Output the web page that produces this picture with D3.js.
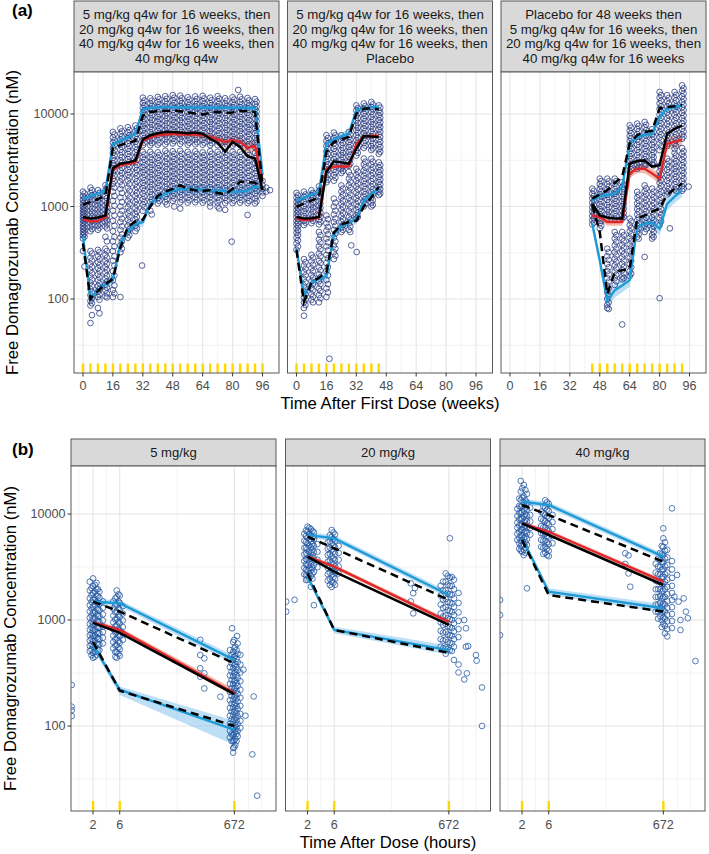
<!DOCTYPE html>
<html><head><meta charset="utf-8">
<script src="https://cdn.jsdelivr.net/npm/d3@7"></script>
<style>body{margin:0;background:#fff}svg{display:block;font-family:"Liberation Sans",Arial,sans-serif}</style>
</head><body><svg id="c" width="709" height="854"></svg>
<script>
// ---------------- DATA ----------------
const stripA1=["5 mg/kg q4w for 16 weeks, then","20 mg/kg q4w for 16 weeks, then","40 mg/kg q4w for 16 weeks, then","40 mg/kg q4w"];
const stripA2=["5 mg/kg q4w for 16 weeks, then","20 mg/kg q4w for 16 weeks, then","40 mg/kg q4w for 16 weeks, then","Placebo"];
const stripA3=["Placebo for 48 weeks then","5 mg/kg q4w for 16 weeks, then","20 mg/kg q4w for 16 weeks, then","40 mg/kg q4w for 16 weeks"];
const stripB=["5 mg/kg","20 mg/kg","40 mg/kg"];
const xTicksA=[0,16,32,48,64,80,96];
const xMinorA=[8,24,40,56,72,88];
const xTicksB=[2,6,672];
const xMinorB=[1.12,3.46,63.5,1200,2050];
const yTicks=[100,1000,10000];
const yMinor=[31.62,316.2,3162];
const dosesA1=[0,4,8,12,16,20,24,28,32,36,40,44,48,52,56,60,64,68,72,76,80,84,88,92,96];
const dosesA2=[0,4,8,12,16,20,24,28,32,36,40,44];
const dosesA3=[44,48,52,56,60,64,68,72,76,80,84,88,92];
const dosesB=[2,6,672];

// simulated percentiles: [time, lower CI, median, upper CI]
const simP95A1=[[0,1090,1200,1320],[4,1180,1300,1430],[8,1250,1380,1520],[12,1340,1480,1630],[16,4250,4700,5200],[20,4700,5200,5750],[24,5050,5600,6200],[28,5500,6100,6750],[32,10200,11200,12300],[36,10600,11600,12800],[40,10800,11800,13000],[44,10800,11800,13000],[48,10800,11800,13000],[52,10800,11800,13000],[56,10700,11750,12950],[60,10700,11750,12950],[64,10700,11750,12950],[68,10700,11700,12900],[72,10700,11700,12900],[76,10700,11700,12900],[80,10700,11700,12900],[84,10700,11700,12900],[88,10600,11600,12800],[92,10600,11600,12800],[96,1900,2200,2550]];
const simMedA1=[[0,690,730,775],[4,650,690,735],[8,660,700,745],[12,715,760,810],[16,2350,2500,2660],[20,2640,2800,2970],[24,2730,2900,3080],[28,2820,3000,3190],[32,4900,5200,5520],[36,5300,5600,5920],[40,5560,5900,6260],[44,5650,6000,6370],[48,5740,6100,6480],[52,5620,6000,6400],[56,5600,6000,6430],[60,5580,6000,6450],[64,5450,5900,6380],[68,5150,5650,6200],[72,4800,5300,5850],[76,4500,5000,5550],[80,4650,5200,5800],[84,4400,5000,5650],[88,3750,4300,4950],[92,3900,4500,5200],[96,1600,1900,2250]];
const simP05A1=[[0,430,480,535],[4,88,100,114],[8,110,125,142],[12,128,145,165],[16,140,160,183],[20,355,400,450],[24,480,540,605],[28,570,640,715],[32,605,680,760],[36,960,1080,1210],[40,1110,1250,1400],[44,1220,1370,1540],[48,1320,1490,1680],[52,1350,1530,1730],[56,1380,1560,1760],[60,1360,1540,1740],[64,1340,1520,1720],[68,1320,1500,1700],[72,1310,1490,1690],[76,1290,1470,1670],[80,1250,1430,1640],[84,1260,1450,1670],[88,1280,1480,1710],[92,1420,1650,1920],[96,1350,1600,1900]];
const obsP95A1=[[0,1040],[4,1120],[8,1200],[12,1300],[16,4300],[20,4600],[24,4900],[28,5100],[32,9600],[36,10500],[40,10700],[44,10800],[48,10900],[52,10700],[56,10400],[60,10100],[64,9900],[68,10300],[72,10600],[76,10200],[80,10400],[84,10800],[88,10700],[92,10500],[96,1650]];
const obsMedA1=[[0,770],[4,740],[8,760],[12,800],[16,2600],[20,2900],[24,3000],[28,3150],[32,5300],[36,5900],[40,6200],[44,6400],[48,6400],[52,6300],[56,6200],[60,6300],[64,6100],[68,5400],[72,4900],[76,3900],[80,5000],[84,4400],[88,3500],[92,3300],[96,1500]];
const obsP05A1=[[0,400],[4,100],[8,122],[12,145],[16,165],[20,360],[24,600],[28,690],[32,720],[36,1000],[40,1300],[44,1450],[48,1550],[52,1700],[56,1550],[60,1500],[64,1480],[68,1500],[72,1400],[76,1350],[80,1550],[84,1850],[88,1850],[92,1800],[96,1550]];

const simP95A2=[[0,1060,1160,1270],[4,1140,1250,1370],[8,1220,1340,1470],[12,1300,1430,1570],[16,4350,4780,5250],[20,4800,5300,5850],[24,5200,5750,6350],[28,5550,6130,6750],[32,10000,11000,12100],[36,10500,11500,12600],[40,10800,11800,12900],[44,10900,11900,13000]];
const simMedA2=[[0,700,740,780],[4,675,715,755],[8,685,725,765],[12,720,760,800],[16,2400,2550,2710],[20,2540,2700,2870],[24,2560,2720,2890],[28,2540,2700,2870],[32,4470,4750,5050],[36,5370,5700,6050],[40,5460,5800,6160],[44,5460,5800,6160]];
const simP05A2=[[0,315,350,390],[4,97,109,122],[8,134,150,168],[12,147,165,185],[16,156,175,196],[20,445,500,560],[24,545,610,685],[28,600,670,750],[32,650,730,820],[36,1030,1150,1290],[40,1210,1350,1510],[44,1400,1560,1750]];
const obsP95A2=[[0,990],[4,1080],[8,1160],[12,1260],[16,3900],[20,4980],[24,5300],[28,5650],[32,10080],[36,11400],[40,11600],[44,11200]];
const obsMedA2=[[0,770],[4,740],[8,745],[12,770],[16,2360],[20,3080],[24,3000],[28,2900],[32,4230],[36,5780],[40,5700],[44,5650]];
const obsP05A2=[[0,340],[4,93],[8,150],[12,170],[16,195],[20,520],[24,640],[28,680],[32,700],[36,1000],[40,1250],[44,1630]];

const simP95A3=[[44,1060,1160,1270],[48,1180,1300,1430],[52,1220,1340,1470],[56,1250,1370,1500],[60,1480,1630,1790],[64,4350,4780,5250],[68,5150,5650,6200],[72,5400,5900,6450],[76,5600,6130,6700],[80,8450,9300,10200],[84,10400,11400,12500],[88,10850,11900,13050],[92,11300,12400,13600]];
const simMedA3=[[44,730,800,875],[48,700,770,845],[52,620,680,745],[56,620,680,745],[60,620,680,745],[64,2030,2270,2540],[68,2290,2560,2860],[72,2290,2560,2860],[76,2030,2270,2540],[80,1750,2000,2290],[84,4100,4780,5500],[88,4300,5000,5800],[92,4550,5270,6100]];
const simP05A3=[[44,570,650,740],[48,230,260,295],[52,80,96,114],[56,104,124,147],[60,118,140,166],[64,135,160,190],[68,510,600,700],[72,555,650,760],[76,570,670,785],[80,490,575,675],[84,910,1070,1250],[88,1090,1280,1500],[92,1270,1490,1750]];
const obsP95A3=[[44,1215],[48,1350],[52,1500],[56,1800],[60,2100],[64,4800],[68,5900],[72,6380],[76,6600],[80,11500],[84,11900],[88,12100],[92,12400]];
const obsMedA3=[[44,1070],[48,800],[52,760],[56,740],[60,740],[64,2900],[68,3100],[72,3150],[76,2700],[80,2800],[84,6100],[88,6900],[92,7500]];
const obsP05A3=[[44,1030],[48,530],[52,113],[56,195],[60,205],[64,212],[68,740],[72,800],[76,880],[80,950],[84,1330],[88,1550],[92,1770]];

const simP95B1=[[2,1400,1490,1590],[6,1350,1440,1540],[672,385,420,460]];
const simMedB1=[[2,900,950,1000],[6,765,805,850],[672,190,205,222]];
const simP05B1=[[2,540,580,625],[6,196,220,236],[672,66,92,112]];
const obsP95B1=[[2,1490],[6,1200],[672,390]];
const obsMedB1=[[2,940],[6,755],[672,200]];
const obsP05B1=[[2,620],[6,215],[672,100]];
const simP95B2=[[2,5950,6340,6750],[6,5550,5900,6300],[672,1600,1720,1850]];
const simMedB2=[[2,3800,3960,4130],[6,3050,3190,3340],[672,910,960,1010]];
const simP05B2=[[2,2420,2560,2710],[6,750,805,865],[672,470,520,575]];
const obsP95B2=[[2,6100],[6,4740],[672,1550]];
const obsMedB2=[[2,3960],[6,2860],[672,900]];
const obsP05B2=[[2,2750],[6,805],[672,490]];
const simP95B3=[[2,12300,13060,13900],[6,11400,12160,13000],[672,3700,3960,4250]];
const simMedB3=[[2,7850,8170,8500],[6,6500,6800,7100],[672,2200,2300,2410]];
const simP05B3=[[2,5550,5900,6250],[6,1720,1850,1990],[672,1180,1290,1410]];
const obsP95B3=[[2,12160],[6,9790],[672,3550]];
const obsMedB3=[[2,8170],[6,6340],[672,2140]];
const obsP05B3=[[2,5700],[6,1720],[672,1200]];

// observations: [time, [concentrations]]
const obsA1=[
[0,[1450,1300,1180,1080,1000,930,870,810,760,710,660,610,570,530,490,450,330]],
[0.8,[1380,1240,1130,1040,960,900,840,780,730,690,640,590,550,510,470,225]],
[4,[1600,1400,1250,1120,1000,900,820,740,670,600,540,330,280,240,205,175,150,128,110,95,85,55]],
[4.8,[1500,1320,1180,1060,950,860,780,700,630,570,310,260,222,190,162,138,118,102,90,67]],
[8,[1500,1300,1150,1030,930,840,760,690,620,560,340,290,250,215,185,160,138,120,105,80]],
[8.8,[1400,1220,1090,980,880,800,720,650,590,320,270,232,200,172,148,128,112,98,70]],
[12,[1700,1480,1300,1150,1030,920,830,750,680,610,470,350,300,258,222,192,166,143,124,107]],
[12.8,[1600,1400,1230,1090,980,880,790,710,640,580,420,330,280,240,207,178,154,133,115,104]],
[16,[6400,5600,4900,4300,3800,3350,2950,2600,2300,2000,1750,1450,1150,900,700,540,420,330,260,200,160,125,105]],
[16.8,[6000,5200,4600,4050,3550,3150,2780,2450,2150,1880,1600,1300,1020,800,620,470,370,290,230,180,140,115]],
[20,[7000,6100,5300,4700,4100,3600,3150,2800,2450,2150,1850,1550,1250,1000,820,680,560,460,380,320,105]],
[20.8,[6500,5700,5000,4400,3850,3400,2980,2620,2300,2000,1700,1400,1120,900,740,610,500,420,350]],
[24,[7200,6300,5500,4800,4200,3700,3250,2850,2500,2200,1900,1600,1350,1150,980,840,720,620,530,460]],
[24.8,[6700,5900,5100,4500,3950,3450,3050,2680,2350,2050,1750,1480,1250,1060,900,780,670,570,490]],
[28,[7500,6500,5700,5000,4400,3850,3400,3000,2650,2300,2000,1750,1500,1300,1120,960,830,720,620,540]],
[28.8,[7000,6100,5350,4700,4100,3600,3200,2800,2480,2150,1870,1620,1400,1200,1040,890,770,670,580]],
[31.6,[230]],
[32,[15000,13200,11700,10400,9300,8300,7400,6600,5900,5200,4600,3900,3400,3000,2650,2350,2050,1800,1580,1380,1200,1050,900]],
[32.8,[14000,12400,11000,9800,8800,7800,7000,6200,5500,4900,3650,3200,2800,2480,2200,1920,1690,1480,1290,1120,980]],
[36,[14800,13000,11500,10200,9100,8100,7200,6400,5700,5100,4600,3900,3400,3000,2650,2350,2080,1840,1630,1440,1270,1120,900]],
[36.8,[13900,12300,10900,9700,8600,7650,6800,6050,5400,4850,3650,3200,2820,2500,2210,1960,1730,1530,1350,1190,820]],
[40,[15300,13500,11900,10500,9300,8300,7400,6600,5900,5200,4650,3850,3350,2950,2600,2300,2030,1800,1590,1400,1230,1080]],
[40.8,[14400,12700,11200,9900,8800,7850,7000,6250,5550,4900,3600,3150,2770,2450,2160,1910,1690,1490,1310,1150]],
[44,[15600,13700,12100,10700,9500,8450,7500,6700,5950,5300,4700,4000,3500,3050,2700,2380,2100,1860,1640,1450,1280,1120]],
[44.8,[14600,12900,11400,10100,8950,7950,7100,6300,5600,5000,3750,3280,2880,2540,2240,1980,1750,1550,1370,1200,1050]],
[48,[16000,14100,12400,11000,9700,8600,7650,6800,6050,5400,4800,3950,3450,3050,2700,2400,2120,1880,1660,1470,1300,1150]],
[48.8,[15000,13200,11700,10300,9150,8150,7250,6450,5750,5100,3700,3250,2870,2540,2250,2000,1770,1560,1380,1220,1000]],
[52,[15800,13900,12300,10900,9650,8550,7600,6750,6000,5350,4750,4000,3480,3050,2680,2360,2080,1840,1620,1430,1260,1110,950]],
[52.8,[14800,13100,11600,10250,9100,8100,7200,6400,5700,5050,3720,3260,2860,2520,2220,1960,1730,1520,1340,1180]],
[56,[15200,13400,11900,10500,9300,8300,7350,6550,5850,5200,4650,3900,3400,3000,2650,2340,2070,1830,1610,1420,1250,1100]],
[56.8,[14300,12600,11200,9900,8800,7800,6950,6200,5500,4900,3650,3200,2820,2490,2200,1950,1720,1520,1340,1170]],
[60,[15500,13700,12100,10700,9500,8400,7500,6650,5900,5250,4700,3950,3450,3030,2670,2360,2080,1840,1620,1430,1260,1110]],
[60.8,[14500,12800,11400,10100,8950,7950,7050,6250,5550,4950,3700,3230,2840,2510,2210,1960,1730,1530,1350,1180]],
[64,[15700,13800,12200,10800,9550,8450,7500,6650,5900,5250,4650,3850,3380,2980,2630,2330,2060,1820,1610,1420,1250,1100]],
[64.8,[14700,13000,11500,10150,9000,7950,7050,6250,5550,4900,3600,3170,2800,2470,2190,1940,1710,1510,1330,1170]],
[68,[15000,13200,11700,10400,9200,8200,7300,6500,5800,5150,4600,3950,3450,3030,2670,2360,2080,1840,1620,1430,1260,1100,1000]],
[68.8,[14100,12500,11100,9800,8700,7750,6900,6150,5450,4850,3700,3230,2840,2510,2210,1960,1730,1530,1350,1180]],
[72,[15600,13700,12100,10700,9500,8400,7450,6600,5850,5200,4600,3900,3420,3000,2640,2330,2060,1820,1610,1420,1250,1100,1000]],
[72.8,[14600,12900,11400,10100,8950,7900,7000,6200,5500,4900,3650,3200,2810,2480,2190,1940,1710,1510,1330,1170,950]],
[76,[14800,13000,11500,10200,9000,8000,7100,6300,5600,5000,4450,3850,3370,2960,2610,2300,2030,1800,1590,1400,1240,1090,920]],
[76.8,[13900,12300,10900,9600,8500,7550,6700,5950,5300,4700,3600,3160,2780,2450,2160,1910,1690,1490,1320,1160]],
[79.5,[417]],
[80,[15200,13400,11800,10400,9200,8150,7250,6450,5750,5100,4550,3900,3400,2990,2630,2320,2050,1810,1600,1410,1240,1090]],
[80.8,[14300,12600,11100,9800,8700,7700,6850,6100,5400,4800,3650,3190,2800,2470,2180,1930,1700,1500,1320,1160]],
[83,[18200]],
[84,[15400,13500,11900,10500,9300,8250,7350,6550,5800,5150,4600,3900,3420,3000,2640,2330,2060,1820,1610,1420,1250,1100]],
[84.8,[14400,12700,11200,9900,8800,7800,6950,6150,5450,4850,3650,3200,2810,2480,2190,1940,1710,1510,1330,1170]],
[88,[14900,13100,11600,10300,9100,8100,7200,6400,5700,5050,4500,3850,3380,2970,2620,2310,2040,1800,1590,1400,1240,1090,810]],
[88.8,[14000,12400,11000,9700,8600,7650,6800,6050,5350,4750,3600,3150,2770,2440,2150,1900,1680,1480,1310,1150]],
[92,[14500,12800,11300,10000,8850,7850,7000,6200,5500,4900,4400,3800,3330,2930,2580,2280,2010,1780,1570,1380,1220,1080]],
[92.8,[13600,12000,10600,9400,8350,7400,6600,5850,5200,4650,3550,3110,2740,2420,2130,1890,1670,1470,1300,1140]],
[96,[1900,1700,1550,1420,1300]],[98,[1600,1450]],[100,[1500]]
];
const obsA2=[
[0,[1400,1250,1120,1010,920,840,770,700,640,580,520,460,400,340]],
[0.8,[1320,1180,1060,960,880,800,730,670,610,550,490,430,370]],
[4,[1450,1280,1130,1000,890,790,700,630,270,230,195,165,140,120,104,92,80,66]],
[4.8,[1350,1200,1060,940,840,750,670,250,212,180,152,130,112,98,86]],
[8,[1500,1320,1170,1040,930,830,740,660,300,255,215,182,155,132,113,98]],
[8.8,[1400,1240,1100,980,880,780,700,280,235,200,170,145,124,106,92]],
[12,[1650,1450,1280,1140,1020,910,810,720,640,530,440,370,310,260,220,185,155,130,110,92]],
[12.8,[1550,1370,1210,1080,960,860,770,680,490,410,345,290,245,205,172,145,122,102]],
[16,[5900,5100,4500,3950,3450,3050,2700,2350,2050,1830,800,660,550,450,370,300,245,200,160,130,105]],
[16.8,[5500,4800,4200,3700,3250,2850,2500,2200,1950,730,600,500,410,335,275,222,180,145,118]],
[17.6,[22.6]],
[20,[6300,5500,4800,4200,3700,3250,2850,2500,2200,1900,1215,1000,820,680,560,460,380,320,270]],
[20.8,[5900,5150,4500,3950,3450,3050,2680,2350,2050,1100,900,740,620,510,420,350,295]],
[24,[5900,5200,4600,4050,3600,3200,2850,2550,2300,1690,1450,1250,1070,920,790,680,590,530]],
[24.8,[5500,4850,4300,3800,3400,3000,2700,2420,1560,1340,1150,990,850,730,630,560]],
[28,[6400,5600,4950,4400,3900,3450,3050,2750,2360,2000,1700,1450,1240,1060,900,770,660,560]],
[28.8,[6000,5250,4650,4100,3650,3250,2900,2180,1850,1580,1340,1150,980,840,720,610,530]],
[29.3,[380]],[32.2,[322]],
[32,[12400,10900,9600,8500,7500,6700,5900,5200,4600,4050,3550,2560,2200,1900,1650,1420,1230,1060,920,800,740]],
[32.8,[11600,10200,9000,8000,7100,6300,5550,4900,4300,3800,2380,2050,1770,1530,1320,1140,990,860,770]],
[36,[13000,11400,10100,8900,7900,7000,6200,5500,4850,4300,3300,2850,2450,2150,1880,1650,1450,1280,1130,1000]],
[36.8,[12200,10700,9500,8400,7450,6600,5850,5150,4550,3050,2650,2300,2000,1760,1550,1360,1200,1060]],
[40,[13500,11900,10500,9300,8200,7300,6500,5750,5100,4500,4070,3290,2850,2480,2150,1880,1640,1430,1250,1100,1000]],
[40.8,[12700,11200,9900,8700,7750,6900,6100,5400,4800,4250,3050,2650,2300,2000,1750,1530,1340,1170,1040]],
[44,[12400,10900,9700,8600,7600,6800,6000,5300,4700,4150,3700,3000,2650,2350,2080,1840,1630,1450,1330]],
[44.8,[11700,10300,9100,8100,7200,6400,5650,5000,4400,3900,2800,2480,2200,1950,1730,1540,1380]]
];
const obsA3=[
[44,[1560,1380,1230,1100,980,880,790,710,640]],
[44.8,[1480,1300,1160,1040,930,840,750,670]],
[48,[2000,1750,1540,1360,1200,1060,940,830,740,660,580]],
[48.8,[1880,1650,1450,1280,1130,1000,890,790,700,620]],
[52,[2000,1750,1530,1340,1180,1040,920,820,740,350,290,240,200,168,140,118,100,86,80]],
[52.8,[1870,1640,1430,1260,1110,980,870,780,320,265,220,184,154,130,109,92,78]],
[56,[2000,1760,1550,1370,1210,1070,950,840,740,530,450,380,320,272,232,198,168,142]],
[56.8,[1880,1650,1450,1290,1140,1010,890,790,490,415,350,296,252,214,182,155]],
[60,[1830,1620,1440,1280,1140,1010,900,800,740,530,450,385,330,282,240,205,175,163,53]],
[60.8,[1720,1530,1360,1210,1070,950,850,770,490,420,358,305,260,222,190,168]],
[64,[7540,6600,5800,5100,4500,3950,3500,3100,2700,2360,740,630,540,460,390,330,280,238,200,177]],
[64.8,[7100,6200,5450,4800,4220,3720,3280,2900,2530,690,585,500,425,360,305,260,220,188]],
[68,[7870,6900,6050,5300,4650,4100,3600,3150,2800,2560,1440,1250,1080,940,820,710,620,540,470]],
[68.8,[7400,6500,5700,5000,4380,3850,3380,2980,2660,1340,1160,1010,880,760,660,580,500,450]],
[72,[8200,7150,6250,5450,4800,4200,3700,3250,2900,2770,1690,1460,1260,1090,940,820,710,620,530,285]],
[72.8,[7650,6700,5850,5100,4500,3950,3480,3080,2830,1570,1360,1170,1010,880,760,660,570]],
[76,[6850,6000,5300,4650,4100,3600,3200,2850,1560,1350,1170,1010,880,760,660,570,490,450]],
[76.8,[6400,5650,4950,4350,3850,3400,3000,2780,1450,1260,1090,940,820,710,610,530,470]],
[80,[17300,15000,13000,11300,9800,8500,7400,6400,5600,4800,4070,2770,2400,2080,1800,1560,1350,1170,1010,870,750,630,102]],
[80.8,[16000,13900,12100,10500,9100,7900,6900,6000,5200,4450,2580,2230,1930,1670,1450,1250,1080,940,810,690]],
[84,[16000,13800,12000,10400,9000,7800,6800,5900,5100,4500,3290,2860,2500,2180,1900,1660,1450,1350]],
[84.8,[14900,12900,11200,9700,8400,7300,6300,5500,4800,3080,2680,2340,2040,1780,1550,1400]],
[85.5,[580]],
[88,[17300,15000,13000,11300,9800,8500,7400,6400,5600,4800,4200,3800,3300,2900,2550,2250,1980,1740,1530]],
[88.8,[16100,14000,12100,10500,9100,7900,6900,6000,5200,4500,3550,3100,2700,2400,2100,1850,1620,1480]],
[92,[20400,17800,15500,13500,11800,10300,9000,7900,6900,6000,5400,4280,3700,3200,2800,2450,2150,1880,1650,1480]],
[92.8,[19000,16600,14500,12600,11000,9600,8400,7400,6450,5700,3950,3450,3000,2620,2300,2000,1760,1560]],
[95.5,[1640]]
];
const obsB1=[
[0.83,[244,152,141,124]],
[1.75,[2300,1900,1600,1380,1200,1050,920,810,720,640,570,510]],
[1.88,[2000,1720,1480,1280,1110,970,850,750,665,590,525,465]],
[2.0,[2470,2100,1800,1550,1340,1170,1030,910,800,710,630,560,490,440]],
[2.15,[2150,1850,1590,1370,1190,1040,915,805,715,635,565,500,450]],
[2.3,[2240,1950,1700,1470,1280,1120,980,860,760,680,600,530,470]],
[2.45,[1950,1680,1450,1260,1100,965,850,750,665,590,525]],
[2.6,[1850,1620,1420,1240,1090,960,850,750,660,590,520]],
[3.0,[1500,1300,1130,990,870,770,680,600]],
[4.6,[1500,1280,1100,950,820,710,620,540]],
[5.0,[1600,1370,1180,1010,870,760,660,575,500,450]],
[5.3,[1900,1650,1400,1200,1030,890,770,670,580,500,440]],
[5.7,[1750,1500,1290,1110,960,830,720,630,550,480]],
[6.0,[1700,1450,1250,1070,930,800,700,610,530,460]],
[6.8,[1350,1150,990,860,750,650]],
[165,[650,467,350,292]],[195,[435,314,226]],[378,[189]],
[560,[520,430,360,300,250,210,175,148,125,105,90,78]],
[600,[470,390,325,272,228,192,162,137,116,98,84,72]],
[612,[835]],
[640,[620,500,420,350,295,248,210,178,150,128,110,95,82,72,62,56]],
[670,[650,540,450,375,315,265,224,190,160,136,116,99,85,73,63]],
[700,[560,460,385,325,272,230,195,165,140,120,102,88,76,66]],
[735,[520,430,360,302,254,214,182,155,132,113,97,84,72]],
[752,[706]],
[770,[600,480,400,335,282,238,200,170,145,123,105,90,80]],
[860,[470,380,320,265,220,185,155,130,112,96]],
[975,[340]],[1060,[125]],[1490,[190]],[1410,[54]],[1720,[22]]
];
const obsB2=[
[0.83,[1490,1200]],[1.17,[1550]],
[1.75,[6500,5600,4800,4150,3600,3100,2700]],
[1.88,[7000,6200,5450,4800,4250,3750,3350,2980,2650,2380]],
[2.0,[7600,6800,6000,5300,4700,4150,3700,3300,2950,2650,2400]],
[2.15,[7400,6500,5750,5050,4450,3950,3500,3100,2750,2450]],
[2.3,[7200,6300,5500,4850,4300,3800,3350,2950,2600,2060]],
[2.45,[6900,6000,5200,4600,4050,3550,3100,2750,2450]],
[2.6,[6700,5800,5000,4350,3800,3300,2850,1380]],
[3.0,[5200,4400,3700,3150]],
[4.6,[5400,4700,4100,3550,3100,2700,2350]],
[5.0,[6300,5500,4800,4200,3650,3200,2800,2450,2150]],
[5.4,[7060,6100,5300,4600,4000,3500,3050,2650,2300,2050]],
[5.8,[6700,5800,5050,4400,3800,3350,2900,2550,2250]],
[6.2,[6400,5600,4850,4200,3650,3200,2800,2450,2150]],
[7.2,[5000,4300,3700,3200,2750]],
[140,[2220,1500]],[155,[1790,1155]],[166,[2000]],
[480,[2100,1700,1400,1150,950,790,660,560]],
[530,[2300,1900,1560,1300,1080,900,760,640,540]],
[590,[2750,2300,1900,1580,1320,1100,920,770,650,550,480]],
[640,[2600,2150,1780,1480,1240,1040,870,730,620,530]],
[700,[5900,2500,2100,1750,1460,1220,1020,860,720,610,520]],
[760,[2550,2100,1720,1430,1190,1000,840,710,600,510]],
[830,[2400,1950,1600,1330,1110,930,780,660,560,420]],
[1000,[1800,1450,1180,980,820,690,380,320]],
[1265,[1000,275]],[1360,[835,560]],[1413,[314]],[1490,[568]],[2050,[467]],[2110,[413]],[2630,[231,100]]
];
const obsB3=[
[0.81,[1545,1115,720]],
[1.65,[11200,9600,8300,7400,6500,5700]],
[1.78,[14000,11900,10300,8900,7800,6800,6000,5300,4700]],
[1.9,[20500,16300,13600,11700,10200,9000,8000,7100,6300,5600,5000,4500]],
[2.02,[17500,14200,12000,10400,9100,8000,7100,6300,5600,5000,4400]],
[2.15,[18800,14600,12400,10800,9500,8400,7500,6700,5900,5200,4600,4100]],
[2.3,[16800,13500,11500,10000,8800,7800,6900,6100,5400,4800,4300]],
[2.45,[15500,12800,11000,9600,8500,7500,6600,5800,5100,1990]],
[2.8,[11500,9800,8500,7400,6400]],
[4.4,[10500,9000,7700,6600,5700,4900]],
[4.8,[11800,10100,8700,7500,6500,5600,4800,4200]],
[5.2,[13500,11500,9900,8600,7500,6500,5600,4900,4300]],
[5.6,[12900,11000,9500,8200,7100,6200,5400,4700,4100]],
[6.0,[12500,10700,9200,8000,6900,6000,5200,4500,4000]],
[7.0,[9800,8400,7200,6200,5300]],
[140,[4260,3380]],[160,[4070,2750]],[172,[2060]],
[490,[3400,2800,2350,1950,1650,1400,1200]],
[540,[3800,3200,2700,2300,1950,1650,1400,1200,1030]],
[590,[4300,3700,3150,2700,2300,1950,1680,1450,1250,1080]],
[630,[5000,4200,3550,3000,2550,2180,1860,1590,1360,1170,1000,860]],
[670,[7330,5900,4900,4100,3500,3000,2550,2200,1900,1640,1420,1230,1060,920]],
[720,[5400,4500,3800,3200,2700,2300,1950,1650,1400,1200,1030,880,750]],
[790,[4600,3900,3300,2800,2400,2050,1750,1500,1300,1120,970,820,700]],
[960,[11300,3600,3000,2500,2100,1800,1540,1320,1140,980,840]],
[1060,[1660]],[1180,[2660]],[1260,[1490]],[1360,[805,1000]],[1555,[1600]],[1700,[1200]],[1835,[1040]],[2520,[410]]
];

// ---------------- DRAWING ----------------
const svg=d3.select("#c");
const W=205;
const BLUE="#1E9AD6", BLUEBAND="#86c4ec", RED="#E0262B", REDBAND="#e98468";
let clipN=0;

function drawPanel(p){
  const x=p.x, y=p.y;
  const [x0,x1]=x.range(), [yb,yt]=y.range();
  const g=svg.append("g");
  g.append("rect").attr("x",x0).attr("y",p.stripTop).attr("width",x1-x0).attr("height",yt-p.stripTop)
    .attr("fill","#D9D9D9").attr("stroke","#595959").attr("stroke-width",1);
  p.strip.forEach((s,i)=>g.append("text").attr("x",(x0+x1)/2).attr("y",p.stripBase[i])
    .attr("text-anchor","middle").attr("font-size",p.stripFont).attr("fill","#1A1A1A").text(s));
  const cid="clp"+(clipN++);
  svg.append("clipPath").attr("id",cid).append("rect").attr("x",x0).attr("y",yt).attr("width",x1-x0).attr("height",yb-yt);
  const pg=g.append("g").attr("clip-path",`url(#${cid})`);
  pg.append("rect").attr("x",x0).attr("y",yt).attr("width",x1-x0).attr("height",yb-yt).attr("fill","#fff");
  yMinor.forEach(v=>pg.append("line").attr("x1",x0).attr("x2",x1).attr("y1",y(v)).attr("y2",y(v)).attr("stroke","#F0F0F0").attr("stroke-width",0.8));
  p.xMinor.forEach(v=>pg.append("line").attr("x1",x(v)).attr("x2",x(v)).attr("y1",yt).attr("y2",yb).attr("stroke","#F0F0F0").attr("stroke-width",0.8));
  yTicks.forEach(v=>pg.append("line").attr("x1",x0).attr("x2",x1).attr("y1",y(v)).attr("y2",y(v)).attr("stroke","#E6E6E6").attr("stroke-width",1.1));
  p.xTicks.forEach(v=>pg.append("line").attr("x1",x(v)).attr("x2",x(v)).attr("y1",yt).attr("y2",yb).attr("stroke","#E6E6E6").attr("stroke-width",1.1));
  p.doses.forEach(d=>pg.append("rect").attr("x",x(d)-1.2).attr("y",yb-p.doseLen).attr("width",2.4).attr("height",p.doseLen).attr("fill","#FFD700"));
  const area=d3.area().x(d=>x(d[0])).y0(d=>y(d[1])).y1(d=>y(d[3]));
  [p.sP05,p.sP95].forEach(s=>pg.append("path").attr("d",area(s)).attr("fill",BLUEBAND).attr("fill-opacity",0.55));
  pg.append("path").attr("d",area(p.sMed)).attr("fill",REDBAND).attr("fill-opacity",0.55);
  const pts=[];
  p.obs.forEach(([t,vals])=>vals.forEach(v=>pts.push([t,v])));
  pg.append("g").selectAll("circle").data(pts).join("circle")
    .attr("cx",d=>x(d[0])).attr("cy",d=>y(d[1])).attr("r",2.85)
    .attr("fill","none").attr("stroke",p.ptColor).attr("stroke-opacity",0.78).attr("stroke-width",1);
  const lineS=d3.line().x(d=>x(d[0])).y(d=>y(d[2]));
  const lineO=d3.line().x(d=>x(d[0])).y(d=>y(d[1]));
  [p.sP05,p.sP95].forEach(s=>pg.append("path").attr("d",lineS(s)).attr("fill","none").attr("stroke",BLUE).attr("stroke-width",2.4));
  pg.append("path").attr("d",lineS(p.sMed)).attr("fill","none").attr("stroke",RED).attr("stroke-width",2.4);
  [p.oP05,p.oP95].forEach(s=>pg.append("path").attr("d",lineO(s)).attr("fill","none").attr("stroke","#000").attr("stroke-width",2.5).attr("stroke-dasharray","8,5"));
  pg.append("path").attr("d",lineO(p.oMed)).attr("fill","none").attr("stroke","#000").attr("stroke-width",2.5);
  g.append("rect").attr("x",x0).attr("y",yt).attr("width",x1-x0).attr("height",yb-yt).attr("fill","none").attr("stroke","#595959").attr("stroke-width",1);
  p.xTicks.forEach(v=>{
    g.append("line").attr("x1",x(v)).attr("x2",x(v)).attr("y1",yb).attr("y2",yb+3.5).attr("stroke","#333").attr("stroke-width",1);
    g.append("text").attr("x",x(v)).attr("y",p.xLabBase).attr("text-anchor","middle").attr("font-size",12.6).attr("fill","#4D4D4D").text(v);
  });
  if(p.yAxis){
    yTicks.forEach(v=>{
      g.append("line").attr("x1",x0-3.5).attr("x2",x0).attr("y1",y(v)).attr("y2",y(v)).attr("stroke","#333").attr("stroke-width",1);
      g.append("text").attr("x",x0-5.5).attr("y",y(v)+4.4).attr("text-anchor","end").attr("font-size",12.6).attr("fill","#4D4D4D").text(v);
    });
  }
}

// ---- (a)
const leftsA=[74,287.5,501];
const yA=d3.scaleLog().domain([Math.pow(10,1.2),Math.pow(10,4.454)]).range([373,72]);
const cfgA=[
  {strip:stripA1,obs:obsA1,doses:dosesA1,sP05:simP05A1,sMed:simMedA1,sP95:simP95A1,oP05:obsP05A1,oMed:obsMedA1,oP95:obsP95A1},
  {strip:stripA2,obs:obsA2,doses:dosesA2,sP05:simP05A2,sMed:simMedA2,sP95:simP95A2,oP05:obsP05A2,oMed:obsMedA2,oP95:obsP95A2},
  {strip:stripA3,obs:obsA3,doses:dosesA3,sP05:simP05A3,sMed:simMedA3,sP95:simP95A3,oP05:obsP05A3,oMed:obsMedA3,oP95:obsP95A3}
];
cfgA.forEach((c,i)=>drawPanel(Object.assign({
  x:d3.scaleLinear().domain([-4.8,104.8]).range([leftsA[i],leftsA[i]+W]), y:yA,
  stripTop:1, stripBase:[19,33.7,48.3,63], stripFont:13.3,
  xTicks:xTicksA, xMinor:xMinorA, doseLen:9.5, xLabBase:389.5, yAxis:i===0, ptColor:"#27397f"
},c)));

// ---- (b)
const leftsB=[71,285.5,500];
const yB=d3.scaleLog().domain([Math.pow(10,1.198),Math.pow(10,4.453)]).range([811,466]);
const cfgB=[
  {obs:obsB1,sP05:simP05B1,sMed:simMedB1,sP95:simP95B1,oP05:obsP05B1,oMed:obsMedB1,oP95:obsP95B1},
  {obs:obsB2,sP05:simP05B2,sMed:simMedB2,sP95:simP95B2,oP05:obsP05B2,oMed:obsMedB2,oP95:obsP95B2},
  {obs:obsB3,sP05:simP05B3,sMed:simMedB3,sP95:simP95B3,oP05:obsP05B3,oMed:obsMedB3,oP95:obsP95B3}
];
cfgB.forEach((c,i)=>drawPanel(Object.assign({
  x:d3.scaleLog().domain([0.807,3733]).range([leftsB[i],leftsB[i]+W]), y:yB,
  strip:[stripB[i]], stripTop:439, stripBase:[456.5], stripFont:13.1,
  xTicks:xTicksB, xMinor:xMinorB, doses:dosesB, doseLen:10, xLabBase:828.5, yAxis:i===0, ptColor:"#2458a3"
},c)));

// titles
svg.append("text").attr("x",12).attr("y",16).attr("font-size",17).attr("font-weight","bold").attr("fill","#000").text("(a)");
svg.append("text").attr("x",12).attr("y",454.5).attr("font-size",17).attr("font-weight","bold").attr("fill","#000").text("(b)");
svg.append("text").attr("x",390).attr("y",408.5).attr("text-anchor","middle").attr("font-size",16.7).attr("fill","#000").text("Time After First Dose (weeks)");
svg.append("text").attr("x",388).attr("y",848).attr("text-anchor","middle").attr("font-size",16.7).attr("fill","#000").text("Time After Dose (hours)");
svg.append("text").attr("transform","translate(17.5,222.5) rotate(-90)").attr("text-anchor","middle").attr("font-size",16.7).attr("fill","#000").text("Free Domagrozumab Concentration (nM)");
svg.append("text").attr("transform","translate(15.5,638.5) rotate(-90)").attr("text-anchor","middle").attr("font-size",16.7).attr("fill","#000").text("Free Domagrozumab Concentration (nM)");
</script></body></html>
